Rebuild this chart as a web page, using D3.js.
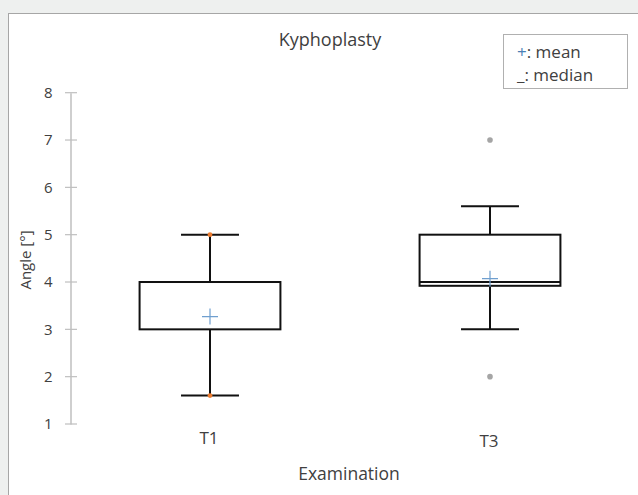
<!DOCTYPE html><head><meta charset="utf-8">
<title>Kyphoplasty</title>
<style type="text/css">
* { box-sizing: border-box; }
body { margin: 0; background: #eef0ef; }
svg { display: block; }
text { font-family: "Open Sans", "Noto Sans", sans-serif; fill: #404040; }
</style>
<script type="text/javascript" src="https://cdn.jsdelivr.net/npm/d3@7"></script>
</head><body>
<div id="chart"></div>
<script type="text/javascript">

// values
var categories = ["T1", "T3"];
var q1Vals = [3, 3.92];
var medianVals = [4, 4];
var q3Vals = [4, 5];
var whiskerLow = [1.6, 3];
var whiskerHigh = [5, 5.6];
var meanVals = [3.27, 4.07];
// single points: whisker end points (min/max) and outliers
var pointCat = ["T1", "T1", "T3", "T3"];
var pointVal = [1.6, 5, 2, 7];
var pointKind = ["minmax", "minmax", "outlier", "outlier"];
var yTicks = [1, 2, 3, 4, 5, 6, 7, 8];

var width = 638, height = 495;
var svg = d3.select("#chart").append("svg")
    .attr("width", width).attr("height", height);

// white chart area with thin frame
svg.append("rect")
    .attr("x", 8.5).attr("y", 13.5)
    .attr("width", 700).attr("height", 600)
    .attr("fill", "white").attr("stroke", "#a6a6a6");

var yscale = d3.scaleLinear().domain([1, 8]).range([424, 92.7]);
var xscale = d3.scalePoint().domain(categories).range([70, 630]).padding(0.5);
var step = xscale.step();
var boxW = step * 0.503;
var capW = step * 0.207;

// y axis
var yaxis = svg.append("g").attr("transform", "translate(70.5,0)")
    .call(d3.axisLeft(yscale).tickValues(yTicks).tickSize(0).tickPadding(18).tickFormat(d3.format("d")));
yaxis.select(".domain").attr("stroke", "#bfbfbf").attr("stroke-width", 1.5);
yaxis.selectAll("text").style("font-size", "15px").attr("fill", "#333");
yaxis.selectAll("line.tk").data(yTicks).join("line").attr("class", "tk")
    .attr("x1", -5.5).attr("x2", 6.5)
    .attr("y1", d => yscale(d)).attr("y2", d => yscale(d))
    .attr("stroke", "#bfbfbf").attr("stroke-width", 1.2);

// category labels
svg.selectAll("text.cat").data(categories).join("text").attr("class", "cat")
    .attr("x", d => xscale(d) - 1)
    .attr("y", (d, i) => 444 + i * 3)
    .attr("text-anchor", "middle")
    .style("font-size", "17px")
    .text(d => d);

var g = svg.append("g");
var idx = d3.range(categories.length);

// whiskers
g.selectAll("line.wlow").data(idx).join("line").attr("class", "wlow")
    .attr("x1", i => xscale(categories[i])).attr("x2", i => xscale(categories[i]))
    .attr("y1", i => yscale(q1Vals[i])).attr("y2", i => yscale(whiskerLow[i]))
    .attr("stroke", "#111").attr("stroke-width", 2);
g.selectAll("line.whigh").data(idx).join("line").attr("class", "whigh")
    .attr("x1", i => xscale(categories[i])).attr("x2", i => xscale(categories[i]))
    .attr("y1", i => yscale(q3Vals[i])).attr("y2", i => yscale(whiskerHigh[i]))
    .attr("stroke", "#111").attr("stroke-width", 2);
g.selectAll("line.caplow").data(idx).join("line").attr("class", "caplow")
    .attr("x1", i => xscale(categories[i]) - capW / 2).attr("x2", i => xscale(categories[i]) + capW / 2)
    .attr("y1", i => yscale(whiskerLow[i])).attr("y2", i => yscale(whiskerLow[i]))
    .attr("stroke", "#111").attr("stroke-width", 2);
g.selectAll("line.caphigh").data(idx).join("line").attr("class", "caphigh")
    .attr("x1", i => xscale(categories[i]) - capW / 2).attr("x2", i => xscale(categories[i]) + capW / 2)
    .attr("y1", i => yscale(whiskerHigh[i])).attr("y2", i => yscale(whiskerHigh[i]))
    .attr("stroke", "#111").attr("stroke-width", 2);

// boxes
g.selectAll("rect.box").data(idx).join("rect").attr("class", "box")
    .attr("x", i => xscale(categories[i]) - boxW / 2)
    .attr("width", boxW)
    .attr("y", i => yscale(q3Vals[i]))
    .attr("height", i => yscale(q1Vals[i]) - yscale(q3Vals[i]))
    .attr("fill", "white").attr("stroke", "#111").attr("stroke-width", 2);
g.selectAll("line.median").data(idx).join("line").attr("class", "median")
    .attr("x1", i => xscale(categories[i]) - boxW / 2).attr("x2", i => xscale(categories[i]) + boxW / 2)
    .attr("y1", i => yscale(medianVals[i])).attr("y2", i => yscale(medianVals[i]))
    .attr("stroke", "#111").attr("stroke-width", 2);

// single points
g.selectAll("circle.pt").data(pointVal).join("circle").attr("class", "pt")
    .attr("cx", (d, i) => xscale(pointCat[i]))
    .attr("cy", d => yscale(d))
    .attr("r", (d, i) => pointKind[i] == "outlier" ? 2.8 : 2.4)
    .attr("fill", (d, i) => pointKind[i] == "outlier" ? "#a5a5a5" : "#ed7d31");

// mean markers
var ps = 8;
g.selectAll("path.mean").data(idx).join("path").attr("class", "mean")
    .attr("d", i => {
        var x = xscale(categories[i]), y = yscale(meanVals[i]);
        return "M" + (x - ps) + "," + y + "H" + (x + ps) + "M" + x + "," + (y - ps) + "V" + (y + ps);
    })
    .attr("stroke", "#6f9fcf").attr("stroke-width", 1.2).attr("fill", "none");

// title and axis titles
svg.append("text").attr("x", 330).attr("y", 46).attr("text-anchor", "middle")
    .style("font-size", "18px").text("Kyphoplasty");
svg.append("text").attr("transform", "translate(31,260) rotate(-90)").attr("text-anchor", "middle")
    .style("font-size", "15px").text("Angle [°]");
svg.append("text").attr("x", 349).attr("y", 480).attr("text-anchor", "middle")
    .style("font-size", "17.5px").text("Examination");

// legend box
var leg = svg.append("g");
leg.append("rect").attr("x", 503.5).attr("y", 34.5).attr("width", 124).attr("height", 54)
    .attr("fill", "white").attr("stroke", "#b0b0b0");
var l1 = leg.append("text").attr("x", 517).attr("y", 57.5).style("font-size", "17px");
l1.append("tspan").style("fill", "#4a7fb5").text("+");
l1.append("tspan").text(": mean");
leg.append("text").attr("x", 517).attr("y", 81).style("font-size", "17px").text("_: median");

</script>
</body></html>
